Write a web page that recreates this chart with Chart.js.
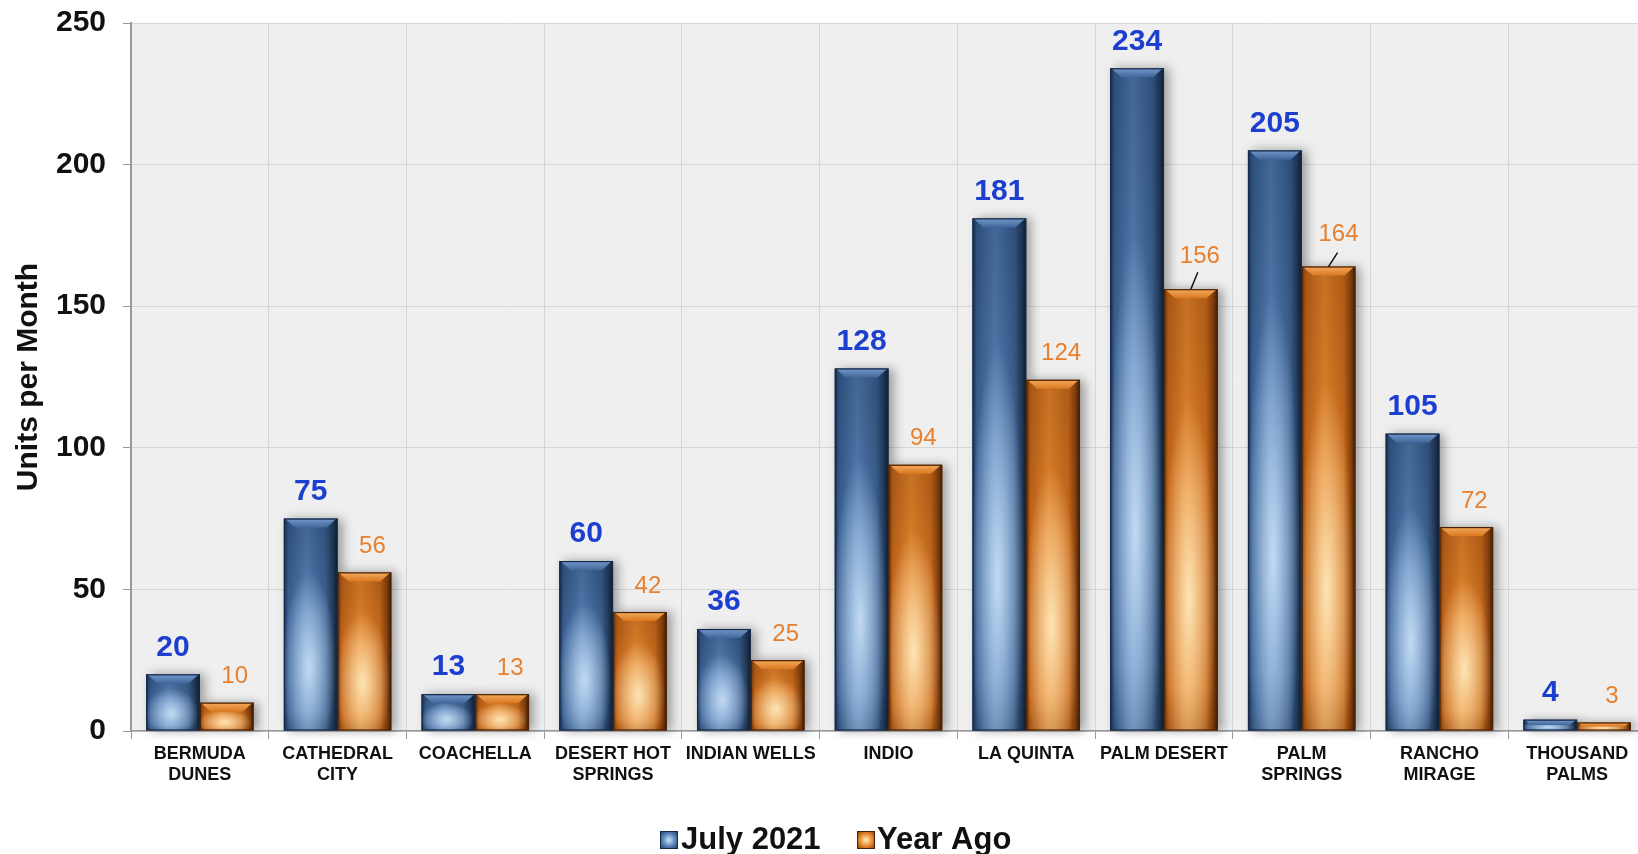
<!DOCTYPE html>
<html><head><meta charset="utf-8">
<script src="https://cdn.jsdelivr.net/npm/chart.js@4.4.0/dist/chart.umd.min.js"></script>
<style>
html,body{margin:0;padding:0;background:#fff;overflow:hidden;width:1638px;height:854px}
#wrap{position:absolute;left:0;top:0;width:1650px;height:854px}
</style></head>
<body><div id="wrap"><canvas id="c" width="1650" height="854"></canvas></div>
<script>
const categories = [["BERMUDA","DUNES"],["CATHEDRAL","CITY"],"COACHELLA",["DESERT HOT","SPRINGS"],"INDIAN WELLS","INDIO","LA QUINTA","PALM DESERT",["PALM","SPRINGS"],["RANCHO","MIRAGE"],["THOUSAND","PALMS"]];
const july2021 = [20,75,13,60,36,128,181,234,205,105,4];
const yearAgo = [10,56,13,42,25,94,124,156,164,72,3];
const seriesNames = ["July 2021","Year Ago"];
const yTickValues = [0,50,100,150,200,250];
const yTitle = "Units per Month";

const FONT = "'Liberation Sans', Arial, sans-serif";
const palettes = [
  {edgeL:'#1a3050', l:'#3a6193', mid:'#5884bc', r:'#3d6393', r2:'#223a59', edgeR:'#0e1a2b',
   hl:'rgba(205,228,250,0.9)', hl0:'rgba(205,228,250,0)', top:'rgba(15,35,65,0.3)',
   bevel1:'#7399ca', bevel2:'#40679a', line:'#16294a', label:'#1c3fcf', labelFont:'bold 30px '+FONT, dx:0, dy:27},
  {edgeL:'#6e3607', l:'#c4661b', mid:'#ea892d', r:'#cc6c1c', r2:'#88420d', edgeR:'#3a1a04',
   hl:'rgba(255,238,195,0.9)', hl0:'rgba(255,238,195,0)', top:'rgba(90,40,5,0.25)',
   bevel1:'#f6ab5c', bevel2:'#d97821', line:'#4a2205', label:'#e8802e', labelFont:'24px '+FONT, dx:8, dy:26}
];
const leaders = [{ds:1, idx:7, lx:9, ly:33, x2:7, y2:17},{ds:1, idx:8, lx:10, ly:32, x2:9, y2:14}];

function paintShadow(ctx, left, top, w, h){
  ctx.save();
  ctx.shadowColor='rgba(0,0,0,0.35)'; ctx.shadowBlur=10; ctx.shadowOffsetX=5; ctx.shadowOffsetY=0;
  ctx.fillStyle='#777'; ctx.fillRect(left, top, w, h);
  ctx.restore();
}
function paintBar(ctx, left, top, w, h, p){
  if (h <= 0) return;
  ctx.save();
  ctx.beginPath(); ctx.rect(left, top, w, h); ctx.clip();
  const g = ctx.createLinearGradient(left,0,left+w,0);
  g.addColorStop(0,p.edgeL); g.addColorStop(0.08,p.l); g.addColorStop(0.42,p.mid);
  g.addColorStop(0.78,p.r); g.addColorStop(0.92,p.r2); g.addColorStop(1,p.edgeR);
  ctx.fillStyle=g; ctx.fillRect(left, top, w, h);
  const vg = ctx.createLinearGradient(0,top,0,top+h);
  vg.addColorStop(0,p.top); vg.addColorStop(0.45,'rgba(0,0,0,0)'); vg.addColorStop(0.9,'rgba(0,0,0,0)'); vg.addColorStop(1,'rgba(0,0,0,0.15)');
  ctx.fillStyle=vg; ctx.fillRect(left, top, w, h);
  const cx = left + w*0.47, cy = top + h*0.7;
  const rx = w*0.5, ry = Math.max(h*0.45, 5);
  ctx.save(); ctx.translate(cx, cy); ctx.scale(1, ry/rx);
  const rg = ctx.createRadialGradient(0,0,0,0,0,rx);
  rg.addColorStop(0,p.hl); rg.addColorStop(1,p.hl0);
  ctx.fillStyle=rg; ctx.beginPath(); ctx.arc(0,0,rx,0,Math.PI*2); ctx.fill();
  ctx.restore();
  const b = Math.min(9, h/2);
  const bg = ctx.createLinearGradient(0,top,0,top+b);
  bg.addColorStop(0,p.bevel1); bg.addColorStop(1,p.bevel2);
  ctx.fillStyle=bg;
  ctx.beginPath(); ctx.moveTo(left+1,top); ctx.lineTo(left+w-1,top); ctx.lineTo(left+w-b-2,top+b); ctx.lineTo(left+b+2,top+b); ctx.closePath(); ctx.fill();
  ctx.restore();
  ctx.save();
  ctx.strokeStyle=p.line; ctx.lineWidth=1.2;
  ctx.strokeRect(left+0.5, top+0.5, w-1, h-1);
  ctx.restore();
}

const barPlugin = {
  id:'barPaint',
  beforeDraw(chart){
    const {ctx, chartArea:a} = chart;
    ctx.save(); ctx.fillStyle='#efefef'; ctx.fillRect(a.left, a.top, a.right-a.left, a.bottom-a.top); ctx.restore();
  },
  afterDatasetsDraw(chart){
    const ctx = chart.ctx;
    const items = [];
    chart.data.datasets.forEach((ds, di) => {
      chart.getDatasetMeta(di).data.forEach((el, i) => {
        const {x, y, base, width} = el.getProps(['x','y','base','width'], true);
        items.push({di, i, left:x-width/2, top:Math.min(y,base), w:width, h:Math.abs(base-y), x, y});
      });
    });
    items.forEach(it => paintShadow(ctx, it.left, it.top, it.w, it.h));
    items.forEach(it => paintBar(ctx, it.left, it.top, it.w, it.h, palettes[it.di]));
    items.forEach(it => {
      const p = palettes[it.di];
      const val = chart.data.datasets[it.di].data[it.i];
      const ld = leaders.find(l => l.ds===it.di && l.idx===it.i);
      let lx = it.x + p.dx, ly = it.top - p.dy;
      if (ld){
        lx = it.x + ld.lx; ly = it.top - ld.ly;
        ctx.save(); ctx.strokeStyle='#111'; ctx.lineWidth=1.5;
        ctx.beginPath(); ctx.moveTo(it.x, it.top); ctx.lineTo(it.x+ld.x2, it.top-ld.y2); ctx.stroke(); ctx.restore();
      }
      ctx.save(); ctx.font=p.labelFont; ctx.fillStyle=p.label; ctx.textAlign='center'; ctx.textBaseline='middle';
      ctx.fillText(String(val), lx, ly); ctx.restore();
    });
  },
  afterDraw(chart){
    const ctx = chart.ctx;
    ctx.save();
    ctx.font = 'bold 31px '+FONT; ctx.textBaseline='alphabetic'; ctx.fillStyle='#111';
    const boxes = [{x:660, tx:681},{x:857, tx:877}];
    seriesNames.forEach((name, i) => {
      const p = palettes[i];
      const bx = boxes[i].x, by = 831, s = 18;
      const g = ctx.createRadialGradient(bx+s/2, by+s/2, 0, bx+s/2, by+s/2, s*0.7);
      g.addColorStop(0, p.hl.replace('0.9','1')); g.addColorStop(0.5, p.mid); g.addColorStop(1, p.edgeL);
      ctx.fillStyle=g; ctx.fillRect(bx, by, s, s);
      ctx.strokeStyle=p.line; ctx.lineWidth=1; ctx.strokeRect(bx+0.5, by+0.5, s-1, s-1);
      ctx.fillStyle='#111';
      ctx.fillText(name, boxes[i].tx, 849);
    });
    ctx.restore();
  }
};

new Chart(document.getElementById('c'), {
  type:'bar',
  data:{
    labels: categories,
    datasets:[
      {label:seriesNames[0], data:july2021, backgroundColor:'#4a74aa', categoryPercentage:0.78, barPercentage:1},
      {label:seriesNames[1], data:yearAgo, backgroundColor:'#e8852a', categoryPercentage:0.78, barPercentage:1}
    ]
  },
  options:{
    responsive:false, animation:false, devicePixelRatio:1,
    layout:{padding:{top:23, right:4, bottom:50, left:0}},
    plugins:{legend:{display:false}, tooltip:{enabled:false}},
    scales:{
      x:{
        grid:{color:'#d6d6d6', lineWidth:1, tickLength:8, tickColor:'#999', offset:true},
        border:{color:'#9a9a9a', width:1.5},
        ticks:{font:{family:FONT, size:18, weight:'bold', lineHeight:1.2}, color:'#111', maxRotation:0, autoSkip:false, padding:4},
        afterFit(s){ s.height = 73; s.paddingLeft = 0; s.paddingRight = 0; }
      },
      y:{
        min:0, max:250,
        afterBuildTicks(s){ s.ticks = yTickValues.map(v => ({value:v})); },
        grid:{color:'#d6d6d6', lineWidth:1, tickLength:8, tickColor:'#999'},
        border:{color:'#9a9a9a', width:2},
        ticks:{font:{family:FONT, size:30, weight:'bold'}, color:'#111', padding:17},
        title:{display:true, text:yTitle, font:{family:FONT, size:30, weight:'bold', lineHeight:1.2}, color:'#111', padding:{top:11, bottom:0}},
        afterFit(s){ s.width = 131; s.paddingTop = 10; s.paddingBottom = 10; }
      }
    }
  },
  plugins:[barPlugin]
});
</script>
</body></html>
